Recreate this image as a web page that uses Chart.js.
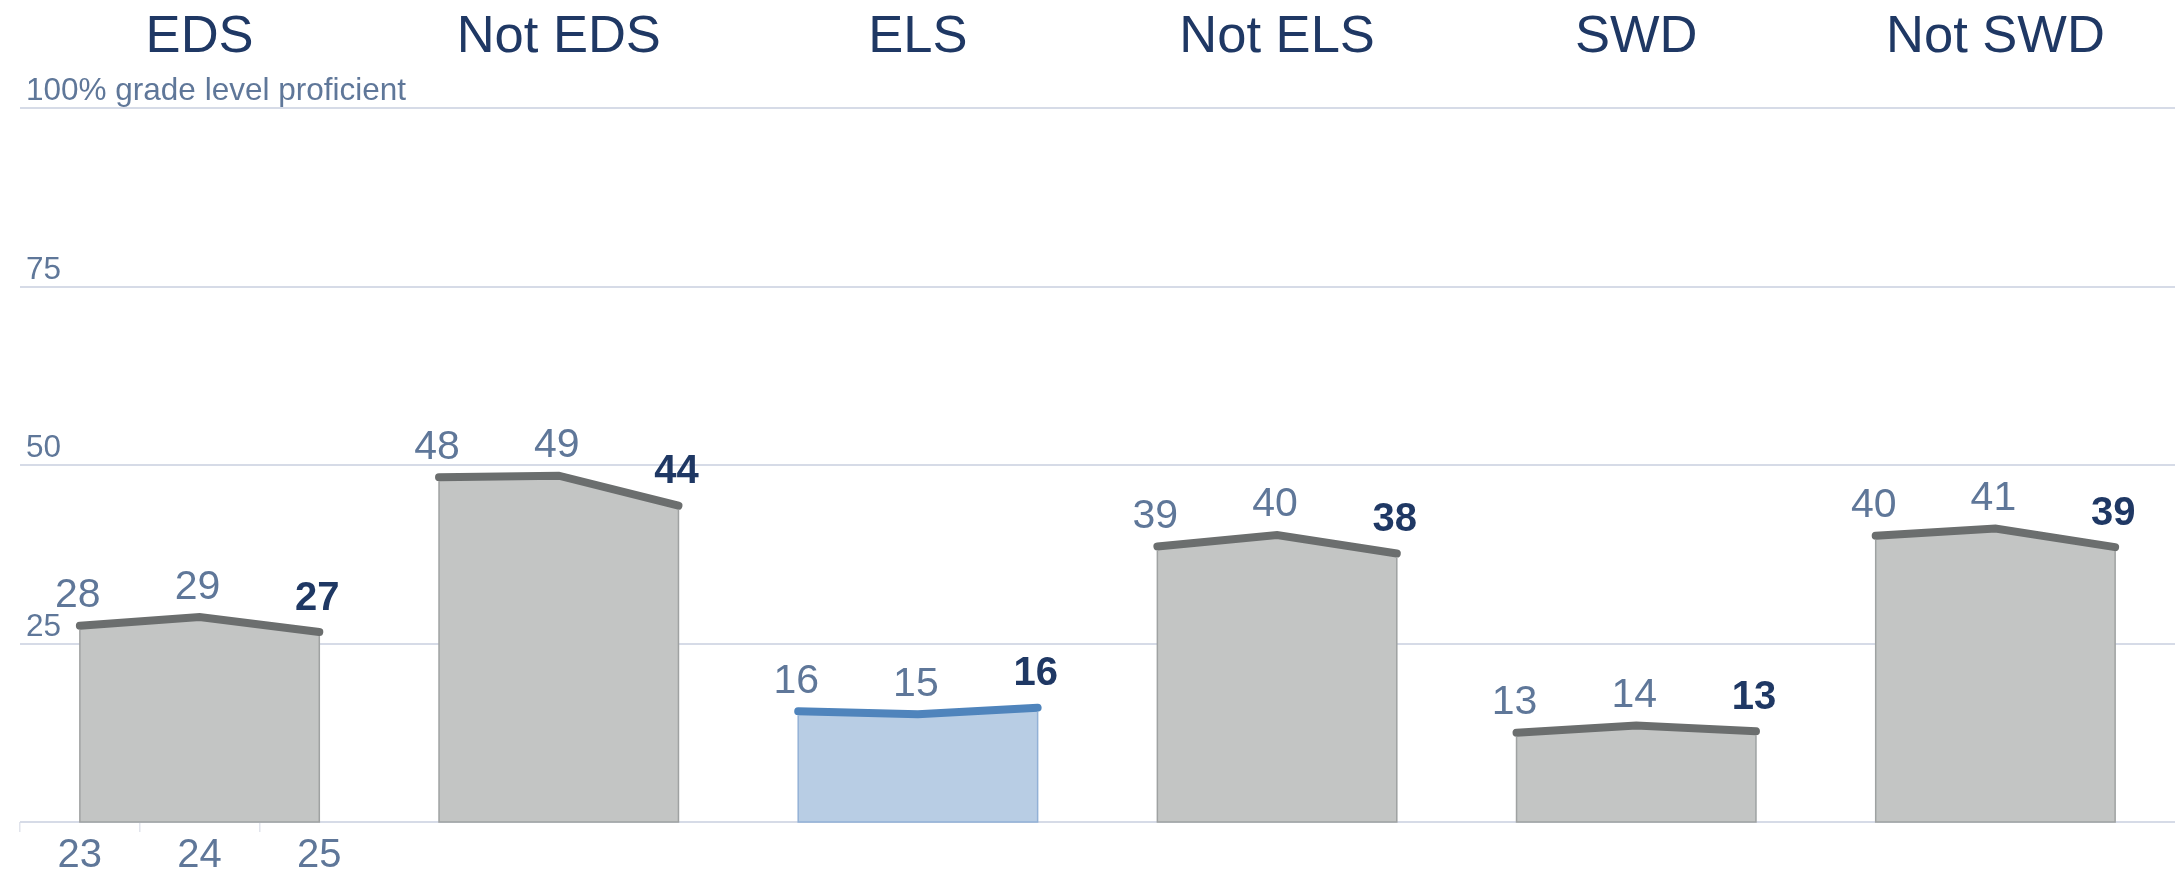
<!DOCTYPE html>
<html>
<head>
<meta charset="utf-8">
<script src="https://cdn.jsdelivr.net/npm/chart.js@4"></script>
<style>
  html, body { margin: 0; padding: 0; background: #ffffff; }
  canvas { display: block; }
</style>
</head>
<body>
<canvas id="chart" width="2176" height="873"></canvas>
<script>
// Student groups (one small panel each) and school years on the x axis
const groups = ['EDS', 'Not EDS', 'ELS', 'Not ELS', 'SWD', 'Not SWD'];
const years = ['23', '24', '25'];

// % grade level proficient per group, years 23 / 24 / 25
const eds = [27.5, 28.7, 26.6];
const notEds = [48.3, 48.5, 44.3];
const els = [15.5, 15.1, 16.0];
const notEls = [38.6, 40.2, 37.6];
const swd = [12.5, 13.5, 12.7];
const notSwd = [40.1, 41.1, 38.5];

// y gridline labels
const yTicks = [25, 50, 75, 100];
const yTickLabels = ['25', '50', '75', '100% grade level proficient'];

const series = [eds, notEds, els, notEls, swd, notSwd];
const highlighted = 'ELS';

const FONT = "'Liberation Sans', Arial, sans-serif";
const NAVY = '#1f3864';
const SLATE = '#5f7799';

// one category per (group, year)
const categories = [];
groups.forEach(() => years.forEach(yr => categories.push(yr)));

const datasets = groups.map((name, i) => {
  const data = new Array(categories.length).fill(null);
  series[i].forEach((v, k) => { data[i * years.length + k] = v; });
  const blue = name === highlighted;
  return {
    label: name,
    data: data,
    borderColor: blue ? '#4f84bc' : '#6b6e6e',
    backgroundColor: blue ? '#b8cde4' : '#c3c5c4',
    edgeColor: blue ? '#92b1d6' : '#9fa2a2',
    borderWidth: 8,
    borderCapStyle: 'round',
    borderJoinStyle: 'miter',
    fill: 'origin',
    tension: 0,
    pointRadius: 0,
    spanGaps: false
  };
});

// titles, y labels, area edges and value labels
const panelPlugin = {
  id: 'panelPlugin',
  beforeDatasetsDraw(chart) {
    const { ctx, scales: { y } } = chart;
    ctx.save();
    ctx.font = `31.5px ${FONT}`;
    ctx.fillStyle = SLATE;
    ctx.textAlign = 'left';
    ctx.textBaseline = 'alphabetic';
    yTicks.forEach((v, i) => {
      ctx.fillText(yTickLabels[i], 26, y.getPixelForValue(v) - 8);
    });
    ctx.restore();
  },
  afterDatasetsDraw(chart) {
    const { ctx, scales: { x, y } } = chart;
    const base = y.getPixelForValue(0);
    ctx.save();

    chart.data.datasets.forEach((ds, i) => {
      const meta = chart.getDatasetMeta(i);
      const pts = meta.data.filter((p, j) => ds.data[j] !== null);
      const first = pts[0];
      const last = pts[pts.length - 1];

      // thin outline on the sides and bottom of the area
      ctx.strokeStyle = ds.edgeColor;
      ctx.lineWidth = 1.5;
      ctx.beginPath();
      ctx.moveTo(first.x, first.y + 4);
      ctx.lineTo(first.x, base);
      ctx.lineTo(last.x, base);
      ctx.lineTo(last.x, last.y + 4);
      ctx.stroke();

      // value labels, latest year in bold
      ctx.textAlign = 'center';
      ctx.textBaseline = 'alphabetic';
      pts.forEach((p, k) => {
        const v = Math.round(series[i][k]);
        if (k === pts.length - 1) {
          ctx.font = `bold 40px ${FONT}`;
          ctx.fillStyle = NAVY;
          ctx.fillText(String(v), p.x - 2, p.y - 22.5);
        } else {
          ctx.font = `41px ${FONT}`;
          ctx.fillStyle = SLATE;
          ctx.fillText(String(v), p.x - 2, p.y - 18.5);
        }
      });

      // panel title
      const cx = (x.getPixelForValue(i * 3) + x.getPixelForValue(i * 3 + 2)) / 2;
      ctx.font = `52.5px ${FONT}`;
      ctx.fillStyle = NAVY;
      ctx.fillText(groups[i], cx, 51.5);
    });

    ctx.restore();
  }
};

new Chart(document.getElementById('chart'), {
  type: 'line',
  data: { labels: categories, datasets: datasets },
  options: {
    responsive: false,
    animation: false,
    devicePixelRatio: 1,
    layout: { padding: { top: 108, left: 20, right: 1, bottom: 0 } },
    plugins: {
      legend: { display: false },
      tooltip: { enabled: false }
    },
    scales: {
      x: {
        type: 'category',
        offset: true,
        border: { display: false },
        grid: {
          offset: true,
          drawOnChartArea: false,
          drawTicks: true,
          tickLength: 10,
          lineWidth: 1.5,
          color: c => (c.index <= 2 ? '#e1e4ec' : 'rgba(0,0,0,0)')
        },
        ticks: {
          autoSkip: false,
          maxRotation: 0,
          padding: 0,
          color: SLATE,
          font: { family: FONT, size: 40 },
          callback: (val, idx) => (idx < years.length ? categories[idx] : '')
        },
        afterFit: s => { s.height = 51; }
      },
      y: {
        min: 0,
        max: 100,
        border: { display: false },
        grid: { color: '#d6dbe7', lineWidth: 2, drawTicks: false },
        ticks: { display: false, stepSize: 25 }
      }
    }
  },
  plugins: [panelPlugin]
});
</script>
</body>
</html>
